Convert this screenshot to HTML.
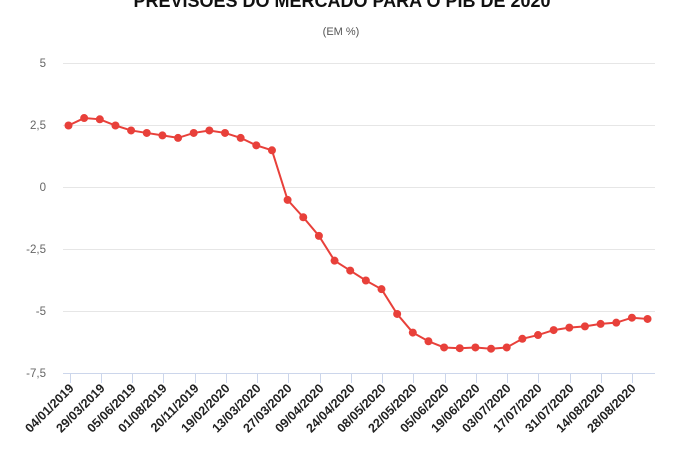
<!DOCTYPE html>
<html><head><meta charset="utf-8"><style>
body{margin:0;background:#fff;width:680px;height:450px;overflow:hidden}
svg text{font-family:"Liberation Sans",sans-serif}
</style></head><body>
<svg width="680" height="450" xmlns="http://www.w3.org/2000/svg">
<text x="342" y="7" text-anchor="middle" font-size="18" font-weight="bold" fill="#111">PREVISÕES DO MERCADO PARA O PIB DE 2020</text>
<text x="341" y="35" text-anchor="middle" font-size="11" fill="#555">(EM %)</text>
<g stroke="#e6e6e6" stroke-width="1">
<line x1="63" x2="655" y1="63.5" y2="63.5"/>
<line x1="63" x2="655" y1="125.5" y2="125.5"/>
<line x1="63" x2="655" y1="187.5" y2="187.5"/>
<line x1="63" x2="655" y1="249.5" y2="249.5"/>
<line x1="63" x2="655" y1="311.5" y2="311.5"/>
</g>
<line x1="63" x2="655" y1="373.5" y2="373.5" stroke="#ccd6eb"/>
<g font-size="11.5" fill="#666" text-anchor="end">
<text x="46" y="67">5</text><text x="46" y="129">2,5</text><text x="46" y="191">0</text>
<text x="46" y="253">-2,5</text><text x="46" y="315">-5</text><text x="46" y="377">-7,5</text>
</g>
<g id="ticks" stroke="#ccd6eb"></g>
<g id="labels" font-size="12.5" font-weight="bold" fill="#222"></g>
<polyline id="line" fill="none" stroke="#e8403a" stroke-width="2"/>
<g id="dots" fill="#e8403a"></g>
</svg>
<script>
var v=[2.5,2.8,2.75,2.5,2.3,2.2,2.1,2.0,2.2,2.3,2.2,2.0,1.7,1.5,-0.5,-1.2,-1.95,-2.95,-3.35,-3.75,-4.1,-5.1,-5.85,-6.2,-6.45,-6.48,-6.45,-6.5,-6.45,-6.1,-5.95,-5.75,-5.65,-5.6,-5.5,-5.45,-5.25,-5.3];
var L=["04/01/2019","29/03/2019","05/06/2019","01/08/2019","20/11/2019","19/02/2020","13/03/2020","27/03/2020","09/04/2020","24/04/2020","08/05/2020","22/05/2020","05/06/2020","19/06/2020","03/07/2020","17/07/2020","31/07/2020","14/08/2020","28/08/2020"];
var ns="http://www.w3.org/2000/svg",pts=[];
function X(i){return 68.5+15.65*i}
v.forEach(function(d,i){var x=X(i),y=187.5-d*24.8;pts.push(x+","+y);
var c=document.createElementNS(ns,"circle");c.setAttribute("cx",x);c.setAttribute("cy",y);c.setAttribute("r",4);document.getElementById("dots").appendChild(c);});
document.getElementById("line").setAttribute("points",pts.join(" "));
L.forEach(function(t,k){var x=Math.round(69.5+31.25*k)+0.5;
var l=document.createElementNS(ns,"line");l.setAttribute("x1",x);l.setAttribute("x2",x);l.setAttribute("y1",373);l.setAttribute("y2",383);document.getElementById("ticks").appendChild(l);
var e=document.createElementNS(ns,"text");e.setAttribute("text-anchor","end");e.setAttribute("transform","translate("+(x+4)+",389) rotate(-45)");e.textContent=t;document.getElementById("labels").appendChild(e);});
</script>
</body></html>
